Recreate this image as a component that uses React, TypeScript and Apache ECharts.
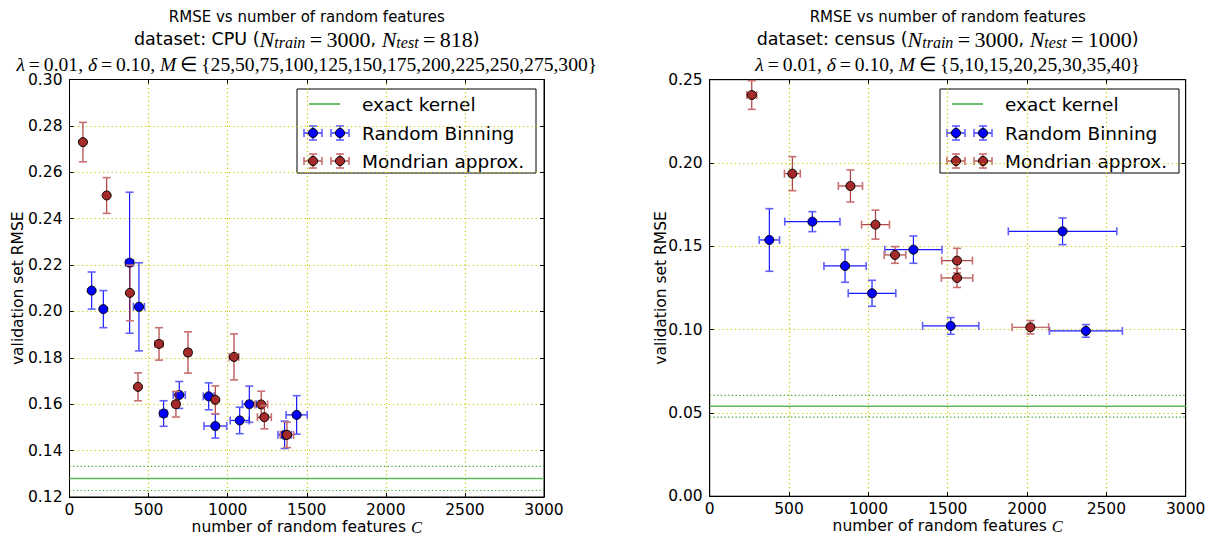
import React, { useEffect, useRef } from 'react';
import * as echarts from 'echarts';

// ---------------- data ----------------
const xTickValues = [0, 500, 1000, 1500, 2000, 2500, 3000];

// CPU dataset
const cpuBinX = [140, 214, 380, 439, 595, 694, 880, 922, 1076, 1137, 1360, 1436];
const cpuBinY = [0.209, 0.201, 0.221, 0.202, 0.156, 0.164, 0.1634, 0.1506, 0.153, 0.160, 0.1468, 0.1554];
const cpuBinXErr = [4, 4, 25, 35, 23, 38, 34, 72, 60, 44, 42, 67];
const cpuBinYErr = [0.008, 0.008, 0.0304, 0.019, 0.0055, 0.0058, 0.0058, 0.0052, 0.0057, 0.0078, 0.0059, 0.0083];

const cpuMonX = [85, 235, 382, 433, 566, 673, 749, 922, 1040, 1212, 1232, 1375];
const cpuMonY = [0.273, 0.250, 0.208, 0.1675, 0.186, 0.160, 0.1823, 0.1619, 0.1804, 0.1599, 0.1544, 0.1468];
const cpuMonXErr = [3, 3, 5, 8, 25, 21, 20, 12, 30, 40, 44, 42];
const cpuMonYErr = [0.0085, 0.0077, 0.012, 0.006, 0.007, 0.0055, 0.0089, 0.006, 0.0099, 0.0057, 0.005, 0.0055];

const cpuExact = 0.128;
const cpuExactErr = 0.0052;

// census dataset
const censusBinX = [376, 647, 853, 1023, 1284, 1519, 2224, 2371];
const censusBinY = [0.1538, 0.1648, 0.1382, 0.1218, 0.148, 0.1022, 0.159, 0.0992];
const censusBinXErr = [64, 174, 133, 150, 180, 177, 342, 230];
const censusBinYErr = [0.0188, 0.006, 0.0098, 0.0078, 0.0082, 0.005, 0.008, 0.0038];

const censusMonX = [265, 521, 887, 1045, 1168, 1559, 1559, 2021];
const censusMonY = [0.2408, 0.1936, 0.1862, 0.163, 0.1448, 0.1414, 0.131, 0.1014];
const censusMonXErr = [31, 50, 76, 88, 68, 97, 99, 115];
const censusMonYErr = [0.0086, 0.0102, 0.0096, 0.0087, 0.005, 0.0074, 0.0057, 0.004];

const censusExact = 0.054;
const censusExactErr = 0.0065;

const legendLabels = ['exact kernel', 'Random Binning', 'Mondrian approx.'];

// ---------------- style ----------------
const SANS = 'DejaVu Sans';
const SERIF = 'Liberation Serif';
const BLUE = '#0000ff';
const BLUE_CAP = '#6060ff';
const RED = '#a52a2a';
const RED_CAP = '#c87070';
const GREEN = '#5cb85c';
const GREEN_DOT = '#33a033';
const GRID_YELLOW = '#c8c800';
const TS = '\u2009';

const grids = [
  { left: 69.5, top: 79.5, width: 474.5, height: 417.5 },
  { left: 709.7, top: 79.7, width: 476, height: 416.5 },
];

function errSeries(name: string, gi: number, xs: number[], ys: number[], xe: number[], ye: number[], color: string, capColor: string) {
  return {
    type: 'custom',
    name,
    xAxisIndex: gi * 2,
    yAxisIndex: gi * 2,
    z: 5,
    clip: false,
    data: xs.map((x, i) => [x, ys[i], xe[i], ye[i]]),
    renderItem: (_params: any, api: any) => {
      const x = api.value(0);
      const y = api.value(1);
      const dx = api.value(2);
      const dy = api.value(3);
      const c = api.coord([x, y]);
      const l = api.coord([x - dx, y]);
      const r = api.coord([x + dx, y]);
      const t = api.coord([x, y + dy]);
      const b = api.coord([x, y - dy]);
      const cap = 4;
      const ls = { stroke: color, lineWidth: 1.2, opacity: 0.9 };
      const cs = { stroke: capColor, lineWidth: 1.6 };
      return {
        type: 'group',
        children: [
          { type: 'line', shape: { x1: l[0], y1: l[1], x2: r[0], y2: r[1] }, style: ls },
          { type: 'line', shape: { x1: t[0], y1: t[1], x2: b[0], y2: b[1] }, style: ls },
          { type: 'line', shape: { x1: l[0], y1: l[1] - cap, x2: l[0], y2: l[1] + cap }, style: cs },
          { type: 'line', shape: { x1: r[0], y1: r[1] - cap, x2: r[0], y2: r[1] + cap }, style: cs },
          { type: 'line', shape: { x1: t[0] - cap, y1: t[1], x2: t[0] + cap, y2: t[1] }, style: cs },
          { type: 'line', shape: { x1: b[0] - cap, y1: b[1], x2: b[0] + cap, y2: b[1] }, style: cs },
          { type: 'circle', shape: { cx: c[0], cy: c[1], r: 4.5 }, style: { fill: color, stroke: '#000', lineWidth: 1 } },
        ],
      };
    },
  };
}

function hLine(name: string, gi: number, v: number, dotted: boolean) {
  return {
    type: 'line',
    name,
    xAxisIndex: gi * 2,
    yAxisIndex: gi * 2,
    data: [[xTickValues[0], v], [xTickValues[xTickValues.length - 1], v]],
    showSymbol: false,
    symbol: 'none',
    silent: true,
    z: 3,
    lineStyle: dotted
      ? { color: GREEN_DOT, width: 1.2, type: [1.2, 2.5] }
      : { color: GREEN, width: 1.5 },
  };
}

function legendMarker(cx: number, cy: number, color: string, capColor: string) {
  const dx = 9;
  const dy = 7;
  const cap = 4;
  const ls = { stroke: color, lineWidth: 1.2 };
  const cs = { stroke: capColor, lineWidth: 1.6 };
  return [
    { type: 'line', shape: { x1: cx - dx, y1: cy, x2: cx + dx, y2: cy }, style: ls },
    { type: 'line', shape: { x1: cx, y1: cy - dy, x2: cx, y2: cy + dy }, style: ls },
    { type: 'line', shape: { x1: cx - dx, y1: cy - cap, x2: cx - dx, y2: cy + cap }, style: cs },
    { type: 'line', shape: { x1: cx + dx, y1: cy - cap, x2: cx + dx, y2: cy + cap }, style: cs },
    { type: 'line', shape: { x1: cx - cap, y1: cy - dy, x2: cx + cap, y2: cy - dy }, style: cs },
    { type: 'line', shape: { x1: cx - cap, y1: cy + dy, x2: cx + cap, y2: cy + dy }, style: cs },
    { type: 'circle', shape: { cx, cy, r: 4.5 }, style: { fill: color, stroke: '#000', lineWidth: 1 } },
  ];
}

function legendGroup(x0: number, y0: number) {
  const w = 239;
  const h = 84;
  const rows = [y0 + 15, y0 + 44, y0 + 72];
  const children: any[] = [
    { type: 'rect', shape: { x: x0, y: y0, width: w, height: h }, style: { fill: '#fff', stroke: '#000', lineWidth: 1 } },
    { type: 'line', shape: { x1: x0 + 12, y1: rows[0], x2: x0 + 43, y2: rows[0] }, style: { stroke: GREEN, lineWidth: 1.8 } },
    ...legendMarker(x0 + 16, rows[1], BLUE, BLUE_CAP),
    ...legendMarker(x0 + 43, rows[1], BLUE, BLUE_CAP),
    ...legendMarker(x0 + 16, rows[2], RED, RED_CAP),
    ...legendMarker(x0 + 43, rows[2], RED, RED_CAP),
  ];
  legendLabels.forEach((lab, i) => {
    children.push({
      type: 'text',
      x: x0 + 65,
      y: rows[i],
      style: { text: lab, fill: '#000', fontSize: 18.5, fontFamily: SANS, verticalAlign: 'middle', align: 'left' },
    });
  });
  return { type: 'group', z: 100, children };
}

const richMath = {
  s: { fontFamily: SANS, fontSize: 17.5, lineHeight: 22, color: '#000' },
  i: { fontFamily: SERIF, fontStyle: 'italic', fontSize: 22, lineHeight: 22, color: '#000' },
  r: { fontFamily: SERIF, fontSize: 22, lineHeight: 22, color: '#000' },
  sub: { fontFamily: SERIF, fontStyle: 'italic', fontSize: 16, lineHeight: 12, verticalAlign: 'bottom', color: '#000' },
  i3: { fontFamily: SERIF, fontStyle: 'italic', fontSize: 19.6, lineHeight: 22, color: '#000' },
};

function titleSet(cx: number, dataset: string, ntrain: number, ntest: number, mSet: string) {
  return [
    {
      text: 'RMSE vs number of random features',
      left: cx, top: 8, textAlign: 'center', padding: 0,
      textStyle: { fontFamily: SANS, fontSize: 15, fontWeight: 'normal', color: '#000', lineHeight: 18 },
    },
    {
      text: `{s|dataset: ${dataset} (}{i|N}{sub|train}{r|${TS}=${TS}${ntrain}}{s|, }{i|N}{sub|test}{r|${TS}=${TS}${ntest}}{s|)}`,
      left: cx, top: 28, textAlign: 'center', padding: 0,
      textStyle: { fontWeight: 'normal', rich: richMath },
    },
    {
      text: `{i3|λ}${TS}=${TS}0.01, {i3|δ}${TS}=${TS}0.10, {i3|M}${TS}∈${TS}{${mSet}}`,
      left: cx, top: 53, textAlign: 'center', padding: 0,
      textStyle: { fontFamily: SERIF, fontSize: 19.6, lineHeight: 22, fontWeight: 'normal', color: '#000', rich: richMath },
    },
  ];
}

function xAxes(gi: number) {
  const base = {
    gridIndex: gi,
    type: 'value',
    min: xTickValues[0],
    max: xTickValues[xTickValues.length - 1],
    interval: xTickValues[1] - xTickValues[0],
    axisLine: { show: true, onZero: false, lineStyle: { color: '#000', width: 1 } },
    axisTick: { show: true, inside: true, length: 4, lineStyle: { color: '#000' } },
  };
  return [
    {
      ...base,
      position: 'bottom',
      axisLabel: { color: '#000', fontFamily: SANS, fontSize: 15.5, margin: 5, formatter: (v: number) => String(Math.round(v)) },
      splitLine: { show: true, lineStyle: { color: GRID_YELLOW, type: [1.2, 3], width: 1.2 } },
      name: '{n|number of random features }{c|C}',
      nameLocation: 'middle',
      nameGap: 22.5,
      nameMoveOverlap: false,
      nameTextStyle: {
        rich: {
          n: { fontFamily: SANS, fontSize: 15.5, color: '#000', lineHeight: 15 },
          c: { fontFamily: SERIF, fontStyle: 'italic', fontSize: 16.5, color: '#000', lineHeight: 15 },
        },
      },
    },
    { ...base, position: 'top', axisLabel: { show: false }, splitLine: { show: false } },
  ];
}

function yAxes(gi: number, min: number, max: number, interval: number, gap: number) {
  const base = {
    gridIndex: gi,
    type: 'value',
    min,
    max,
    interval,
    axisLine: { show: true, onZero: false, lineStyle: { color: '#000', width: 1 } },
    axisTick: { show: true, inside: true, length: 4, lineStyle: { color: '#000' } },
  };
  return [
    {
      ...base,
      position: 'left',
      axisLabel: { color: '#000', fontFamily: SANS, fontSize: 15.5, margin: 7, formatter: (v: number) => v.toFixed(2) },
      splitLine: { show: true, lineStyle: { color: GRID_YELLOW, type: [1.2, 3], width: 1.2 } },
      name: 'validation set RMSE',
      nameLocation: 'middle',
      nameGap: gap,
      nameMoveOverlap: false,
      nameTextStyle: { fontFamily: SANS, fontSize: 15.5, color: '#000' },
    },
    { ...base, position: 'right', axisLabel: { show: false }, splitLine: { show: false } },
  ];
}

export default function App() {
  const ref = useRef<HTMLDivElement>(null);
  useEffect(() => {
    if (!ref.current) return;
    const chart = echarts.init(ref.current, undefined, { renderer: 'svg' });
    const option: any = {
      animation: false,
      backgroundColor: '#fff',
      title: [
        ...titleSet(306.8, 'CPU', 3000, 818, '25,50,75,100,125,150,175,200,225,250,275,300'),
        ...titleSet(947.7, 'census', 3000, 1000, '5,10,15,20,25,30,35,40'),
      ],
      grid: grids.map((g) => ({
        ...g,
        show: true,
        borderColor: '#000',
        borderWidth: 1,
        backgroundColor: 'transparent',
        containLabel: false,
        outerBoundsMode: 'none',
      })),
      xAxis: [...xAxes(0), ...xAxes(1)],
      yAxis: [...yAxes(0, 0.12, 0.30, 0.02, 44), ...yAxes(1, 0, 0.25, 0.05, 41)],
      series: [
        hLine('exact kernel', 0, cpuExact, false),
        hLine('exact kernel +', 0, cpuExact + cpuExactErr, true),
        hLine('exact kernel -', 0, cpuExact - cpuExactErr, true),
        errSeries('Random Binning', 0, cpuBinX, cpuBinY, cpuBinXErr, cpuBinYErr, BLUE, BLUE_CAP),
        errSeries('Mondrian approx.', 0, cpuMonX, cpuMonY, cpuMonXErr, cpuMonYErr, RED, RED_CAP),
        hLine('exact kernel', 1, censusExact, false),
        hLine('exact kernel +', 1, censusExact + censusExactErr, true),
        hLine('exact kernel -', 1, censusExact - censusExactErr, true),
        errSeries('Random Binning', 1, censusBinX, censusBinY, censusBinXErr, censusBinYErr, BLUE, BLUE_CAP),
        errSeries('Mondrian approx.', 1, censusMonX, censusMonY, censusMonXErr, censusMonYErr, RED, RED_CAP),
      ],
      graphic: [legendGroup(297, 89), legendGroup(940, 89)],
    };
    chart.setOption(option);
    return () => chart.dispose();
  }, []);
  return (
    <div
      ref={ref}
      style={{ position: 'fixed', left: 0, top: 0, width: 1215, height: 536, background: '#fff' }}
    />
  );
}
